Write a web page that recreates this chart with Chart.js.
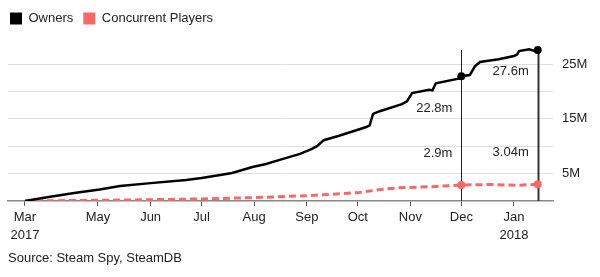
<!DOCTYPE html>
<html>
<head>
<meta charset="utf-8">
<script src="https://cdn.jsdelivr.net/npm/chart.js@4/dist/chart.umd.min.js"></script>
<style>
  html, body { margin: 0; padding: 0; background: #fff; }
  #wrap { width: 600px; height: 277px; position: relative; }
  #source {
    position: absolute; left: 8px; top: 250px;
    font: 13px 'Liberation Sans', Arial, sans-serif; color: #222;
  }
</style>
</head>
<body>
<div id="wrap">
  <canvas id="chart"></canvas>
  <div id="source">Source: Steam Spy, SteamDB</div>
</div>
<script>
// x values are days since the Mar 2017 start of the series
const ownersDays = [0, 14, 29, 44, 56, 74, 95, 104, 115, 122, 134, 142, 150, 162, 169, 172, 176, 185, 197, 201, 203, 205, 209, 222, 225, 228, 238, 240, 242, 256, 257, 262, 265, 268, 279, 288, 290, 291, 297, 300, 302];
const ownersM = [0, 0.7, 1.45, 2.1, 2.74, 3.25, 3.83, 4.2, 4.74, 5.1, 6.2, 6.75, 7.5, 8.6, 9.5, 10.0, 11.1, 11.9, 13.1, 13.5, 13.8, 15.9, 16.4, 17.7, 18.2, 19.7, 20.3, 20.2, 21.5, 22.4, 22.8, 23.0, 24.6, 25.4, 25.9, 26.5, 26.8, 27.4, 27.7, 27.4, 27.6];

const playersDays = [0, 20, 40, 70, 104, 135, 166, 180, 196, 210, 220, 240, 257, 275, 290, 302];
const playersM = [0, 0.05, 0.1, 0.2, 0.36, 0.6, 0.96, 1.2, 1.5, 2.1, 2.4, 2.6, 2.9, 3.0, 2.85, 3.04];

const monthDays = [0, 43, 74, 104, 135, 166, 196, 227, 257, 288];
const monthLabels = [['Mar', '2017'], 'May', 'Jun', 'Jul', 'Aug', 'Sep', 'Oct', 'Nov', 'Dec', ['Jan', '2018']];

const yTickLabels = { 5: '5M', 15: '15M', 25: '25M' };

const markerDays = [257, 302];
const ownerNotes = ['22.8m', '27.6m'];
const playerNotes = ['2.9m', '3.04m'];

const FONT = "'Liberation Sans', Arial, sans-serif";
const TEXT = '#222';
const RED = '#f76868';

function toPoints(xs, ys) {
  return xs.map((x, i) => ({ x: x, y: ys[i] }));
}

function markerRadius(ctx) {
  return ctx.raw && markerDays.includes(ctx.raw.x) ? 4 : 0;
}

// vertical reference lines + value notes
const markerPlugin = {
  id: 'markers',
  beforeDatasetsDraw(chart) {
    const { ctx, scales: { x, y } } = chart;
    const top = y.getPixelForValue(ownersM[ownersM.length - 1]);
    const base = y.getPixelForValue(0);
    ctx.save();
    markerDays.forEach((d, i) => {
      const px = Math.round(x.getPixelForValue(d)) + 0.5;
      ctx.strokeStyle = i === 0 ? '#222' : '#333';
      ctx.lineWidth = i === 0 ? 1 : 2;
      ctx.beginPath();
      ctx.moveTo(px, top);
      ctx.lineTo(px, base);
      ctx.stroke();
    });
    ctx.restore();
  },
  afterDatasetsDraw(chart) {
    const { ctx, scales: { x, y } } = chart;
    ctx.save();
    ctx.font = '13px ' + FONT;
    ctx.fillStyle = TEXT;
    ctx.textAlign = 'right';
    ctx.textBaseline = 'middle';
    const ownerOffset = [32, 21];
    markerDays.forEach((d, i) => {
      const px = x.getPixelForValue(d) - 9;
      const oy = y.getPixelForValue(ownersM[ownersDays.indexOf(d)]) + ownerOffset[i];
      ctx.fillText(ownerNotes[i], px, oy);
      const py = y.getPixelForValue(playersM[playersDays.indexOf(d)]) - 32;
      ctx.fillText(playerNotes[i], px, py);
    });
    ctx.restore();
  }
};

// extra space between legend and plot
const legendGap = {
  id: 'legendGap',
  beforeInit(chart) {
    const fit = chart.legend.fit;
    chart.legend.fit = function () {
      fit.call(this);
      this.height += 10;
    };
  }
};

new Chart(document.getElementById('chart'), {
  type: 'line',
  data: {
    datasets: [
      {
        label: 'Owners',
        data: toPoints(ownersDays, ownersM),
        xAxisID: 'x',
        yAxisID: 'y',
        borderColor: '#000',
        backgroundColor: '#000',
        borderWidth: 2.5,
        pointRadius: markerRadius,
        pointHoverRadius: markerRadius,
        pointBackgroundColor: '#000',
        pointBorderWidth: 0,
        tension: 0,
        order: 1
      },
      {
        label: 'Concurrent Players',
        data: toPoints(playersDays, playersM),
        xAxisID: 'x',
        yAxisID: 'y',
        borderColor: RED,
        backgroundColor: RED,
        borderWidth: 3,
        borderDash: [7, 4],
        pointRadius: markerRadius,
        pointHoverRadius: markerRadius,
        pointBackgroundColor: RED,
        pointBorderWidth: 0,
        tension: 0,
        order: 2
      }
    ]
  },
  options: {
    responsive: true,
    maintainAspectRatio: false,
    animation: false,
    layout: { padding: { left: 0, right: 0, top: 2, bottom: 30 } },
    plugins: {
      tooltip: { enabled: false },
      title: { display: false },
      legend: {
        position: 'top',
        align: 'start',
        labels: {
          boxWidth: 12,
          boxHeight: 12,
          padding: 10,
          color: TEXT,
          font: { family: FONT, size: 13 },
          generateLabels(chart) {
            return chart.data.datasets.map((ds, i) => ({
              text: ds.label,
              fillStyle: ds.borderColor,
              strokeStyle: ds.borderColor,
              lineWidth: 0,
              fontColor: TEXT,
              datasetIndex: i
            }));
          }
        }
      }
    },
    scales: {
      x: {
        type: 'linear',
        min: -10,
        max: 311,
        afterBuildTicks(scale) {
          scale.ticks = monthDays.map(v => ({ value: v }));
        },
        ticks: {
          autoSkip: false,
          maxRotation: 0,
          color: TEXT,
          padding: 3,
          font: { family: FONT, size: 13, lineHeight: 1.35 },
          callback(value, index) {
            return monthLabels[index];
          }
        },
        grid: {
          drawOnChartArea: false,
          drawTicks: true,
          tickLength: 5,
          tickColor: '#555',
          tickWidth: 1
        },
        border: { color: '#888', width: 1.5 }
      },
      y: {
        position: 'right',
        min: 0,
        max: 28.5,
        afterBuildTicks(scale) {
          scale.ticks = [0, 5, 10, 15, 20, 25].map(v => ({ value: v }));
        },
        afterFit(scale) {
          scale.width = 47;
        },
        ticks: {
          color: TEXT,
          padding: 9,
          font: { family: FONT, size: 13 },
          callback(value) {
            return yTickLabels[value] || '';
          }
        },
        grid: {
          drawTicks: false,
          color(ctx) {
            return ctx.tick && ctx.tick.value === 0 ? 'rgba(0,0,0,0)' : '#dedede';
          },
          lineWidth: 1
        },
        border: { display: false }
      },
      // empty left gutter so the plot starts a few px in
      gutter: {
        type: 'linear',
        position: 'left',
        display: true,
        min: 0,
        max: 1,
        afterFit(scale) {
          scale.width = 8;
        },
        ticks: { display: false },
        grid: { display: false },
        border: { display: false }
      }
    }
  },
  plugins: [markerPlugin, legendGap]
});
</script>
</body>
</html>
